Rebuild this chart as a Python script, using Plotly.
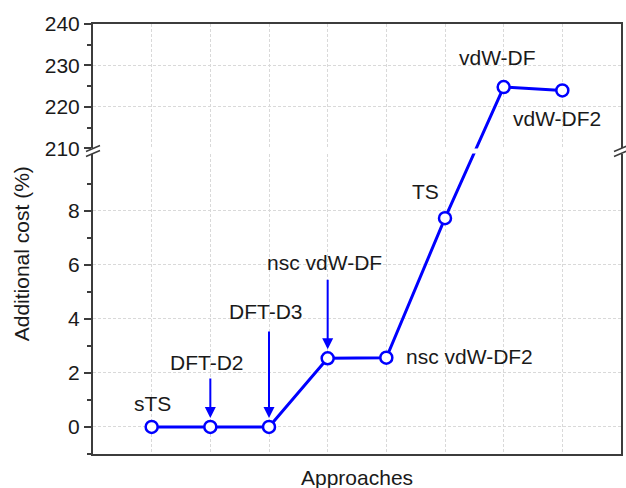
import plotly.graph_objects as go

# ---------------- data ----------------
approaches = ["sTS", "DFT-D2", "DFT-D3", "nsc vdW-DF", "nsc vdW-DF2", "TS", "vdW-DF", "vdW-DF2"]
x_pos = [1, 2, 3, 4, 5, 6, 7, 8]
cost = [0.0, 0.0, 0.0, 2.54, 2.56, 7.72, 224.8, 224.0]

lower_ticks = [0, 2, 4, 6, 8]
lower_minor = [-1, 1, 3, 5, 7, 9]
upper_ticks = [210, 220, 230, 240]
upper_minor = [215, 225, 235]

# label placement (pixel offsets from point), arrows (pixel length)
label_style = {
    "sTS": (1, 23, "center"),
    "DFT-D2": (-3, 64, "center"),
    "DFT-D3": (-3, 115, "center"),
    "nsc vdW-DF": (-3, 96, "center"),
    "nsc vdW-DF2": (18, 1, "left"),
    "TS": (-20, 27, "center"),
    "vdW-DF": (-6, 30, "center"),
    "vdW-DF2": (-5, -28, "center"),
}
arrow_len = {"DFT-D2": 50, "DFT-D3": 97, "nsc vdW-DF": 80}

# ---------------- axis break geometry ----------------
LOW_RANGE = [-1, 10.11]
LOW_DOM = [0.0, 0.6988]
UP_RANGE = [210, 240]
UP_DOM = [0.7105, 1.0]
BREAK_AT = 100

def low_to_paper(v):
    return LOW_DOM[0] + (v - LOW_RANGE[0]) / (LOW_RANGE[1] - LOW_RANGE[0]) * (LOW_DOM[1] - LOW_DOM[0])

def up_to_paper(v):
    return UP_DOM[0] + (v - UP_RANGE[0]) / (UP_RANGE[1] - UP_RANGE[0]) * (UP_DOM[1] - UP_DOM[0])

def paper_to_low(f):
    return LOW_RANGE[0] + (f - LOW_DOM[0]) / (LOW_DOM[1] - LOW_DOM[0]) * (LOW_RANGE[1] - LOW_RANGE[0])

def paper_to_up(f):
    return UP_RANGE[0] + (f - UP_DOM[0]) / (UP_DOM[1] - UP_DOM[0]) * (UP_RANGE[1] - UP_RANGE[0])

def in_low(v):
    return v < BREAK_AT

def as_low(v):
    return v if in_low(v) else paper_to_low(up_to_paper(v))

def as_up(v):
    return v if not in_low(v) else paper_to_up(low_to_paper(v))

low_idx = [i for i, v in enumerate(cost) if in_low(v)]
up_idx = [i for i, v in enumerate(cost) if not in_low(v)]

# line pieces (the crossing segment is drawn in both panels and clipped)
low_line_idx = low_idx + [up_idx[0]]
up_line_idx = [low_idx[-1]] + up_idx

BLUE = "#0000ff"
FONT = "Liberation Sans, Arial, sans-serif"
TXT = "#1a1a1a"
AX = "#3c3c3c"

fig = go.Figure()
fig.add_trace(go.Scatter(x=[x_pos[i] for i in low_line_idx], y=[as_low(cost[i]) for i in low_line_idx],
                         mode="lines", line=dict(color=BLUE, width=3), xaxis="x", yaxis="y",
                         hoverinfo="skip", showlegend=False))
fig.add_trace(go.Scatter(x=[x_pos[i] for i in up_line_idx], y=[as_up(cost[i]) for i in up_line_idx],
                         mode="lines", line=dict(color=BLUE, width=3), xaxis="x2", yaxis="y2",
                         hoverinfo="skip", showlegend=False))
marker = dict(symbol="circle", size=12, color="white", line=dict(color=BLUE, width=2.5))
fig.add_trace(go.Scatter(x=[x_pos[i] for i in low_idx], y=[cost[i] for i in low_idx],
                         text=[approaches[i] for i in low_idx], mode="markers", marker=marker,
                         xaxis="x", yaxis="y", showlegend=False, cliponaxis=False))
fig.add_trace(go.Scatter(x=[x_pos[i] for i in up_idx], y=[cost[i] for i in up_idx],
                         text=[approaches[i] for i in up_idx], mode="markers", marker=marker,
                         xaxis="x2", yaxis="y2", showlegend=False, cliponaxis=False))

annotations = []
for i, name in enumerate(approaches):
    xs, ys, xa = label_style[name]
    low = in_low(cost[i])
    annotations.append(dict(x=x_pos[i], y=cost[i], xref="x" if low else "x2", yref="y" if low else "y2",
                            text=name, showarrow=False, xshift=xs, yshift=ys, xanchor=xa, yanchor="middle",
                            font=dict(family=FONT, size=21, color=TXT)))
    if name in arrow_len:
        annotations.append(dict(x=x_pos[i], y=cost[i], xref="x", yref="y", text="", showarrow=True,
                                ax=0, ay=-arrow_len[name], arrowhead=2, arrowsize=1.1, arrowwidth=2,
                                arrowcolor=BLUE, standoff=9, font=dict(size=1)))

# plot area is 530 x 430 px (left 93, top 24)
annotations.append(dict(x=(21 - 93) / 530, y=(454 - 254) / 430, xref="paper", yref="paper",
                        text="Additional cost (%)", textangle=-90, showarrow=False,
                        xanchor="center", yanchor="middle", font=dict(family=FONT, size=21, color=TXT)))
annotations.append(dict(x=0.5, y=(454 - 477) / 430, xref="paper", yref="paper", text="Approaches",
                        showarrow=False, xanchor="center", yanchor="middle",
                        font=dict(family=FONT, size=21, color=TXT)))

# break marks on left and right axis lines
shapes = []
for xp in (0, 1):
    for yp in (LOW_DOM[1], UP_DOM[0]):
        shapes.append(dict(type="line", xref="paper", yref="paper", xsizemode="pixel", ysizemode="pixel",
                           xanchor=xp, yanchor=yp, x0=-7, x1=7, y0=-3, y1=3,
                           line=dict(color=AX, width=1.5)))

grid = dict(showgrid=True, gridcolor="#d9d9d9", griddash="3px,2px", gridwidth=1)
xcommon = dict(range=[0, 9], tickmode="linear", tick0=0, dtick=1, showticklabels=False, ticks="",
               zeroline=False, showline=True, linecolor=AX, linewidth=2, **grid)
ycommon = dict(zeroline=False, showline=True, linecolor=AX, linewidth=2, mirror=True,
               ticks="outside", ticklen=7, tickwidth=1.5, tickcolor=AX,
               tickfont=dict(family=FONT, size=21, color=TXT), **grid)

fig.update_layout(
    width=626, height=488,
    margin=dict(l=93, r=3, t=24, b=34),
    paper_bgcolor="white", plot_bgcolor="white",
    xaxis=dict(domain=[0, 1], anchor="y", **xcommon),
    xaxis2=dict(domain=[0, 1], anchor="y2", matches="x", side="top", **xcommon),
    yaxis=dict(domain=LOW_DOM, range=LOW_RANGE, anchor="x", tickmode="array", tickvals=lower_ticks,
               minor=dict(tickvals=lower_minor, ticks="outside", ticklen=4, tickwidth=1.5, tickcolor=AX,
                          showgrid=False), **ycommon),
    yaxis2=dict(domain=UP_DOM, range=UP_RANGE, anchor="x2", tickmode="array", tickvals=upper_ticks,
                minor=dict(tickvals=upper_minor, ticks="outside", ticklen=4, tickwidth=1.5, tickcolor=AX,
                           showgrid=False), **ycommon),
    annotations=annotations,
    shapes=shapes,
)

# remove the default page margin so the figure fills the 626x488 window exactly
fig.write_html("out.html", config={"displayModeBar": False},
               post_script="document.body.style.margin='0';document.body.style.overflow='hidden';")
